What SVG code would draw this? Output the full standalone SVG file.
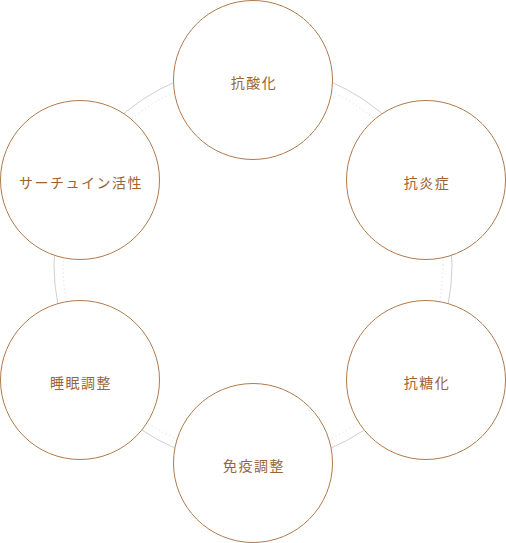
<svg xmlns="http://www.w3.org/2000/svg" width="506" height="543" viewBox="0 0 506 543">
<style>
.ring{fill:none;stroke:#cfcfcf;stroke-width:1}
.dots{fill:none;stroke:#d8d8d8;stroke-width:1;stroke-dasharray:1 3}
.node circle{fill:#fff;stroke:#b07a4c;stroke-width:1}
.node text{font-family:"Noto Sans CJK JP","Noto Sans",sans-serif;font-size:14px;fill:#9c6434;text-anchor:middle;letter-spacing:1.5px}
</style>
<rect width="506" height="543" fill="#fff"/>
<g id="connectors">
<circle class="ring" cx="253" cy="265" r="199"/>
<circle class="dots" cx="253" cy="265" r="190"/>
</g>
<g id="n-antioxidant" class="node"><circle cx="253" cy="80" r="79.5"/><text x="254" y="88">抗酸化</text></g>
<g id="n-antiinflammatory" class="node"><circle cx="426" cy="180" r="79.5"/><text x="427" y="188">抗炎症</text></g>
<g id="n-antiglycation" class="node"><circle cx="426" cy="380" r="79.5"/><text x="427" y="388">抗糖化</text></g>
<g id="n-immune" class="node"><circle cx="253" cy="463" r="79.5"/><text x="254" y="471">免疫調整</text></g>
<g id="n-sleep" class="node"><circle cx="80" cy="380" r="79.5"/><text x="81" y="388">睡眠調整</text></g>
<g id="n-sirtuin" class="node"><circle cx="80" cy="180" r="79.5"/><text x="81" y="188">サーチュイン活性</text></g>
</svg>
